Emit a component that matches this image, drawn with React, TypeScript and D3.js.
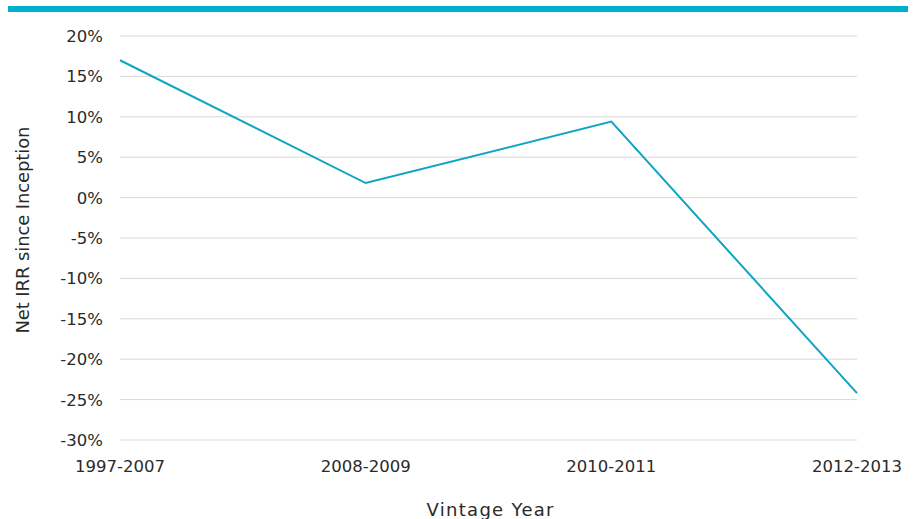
import React from "react";
import * as d3 from "d3";

const categories = ["1997-2007", "2008-2009", "2010-2011", "2012-2013"];
const irrValues = [17.0, 1.8, 9.4, -24.2];
const yTicks = [20, 15, 10, 5, 0, -5, -10, -15, -20, -25, -30];

const W = 916;
const H = 519;

export default function App() {
  const x = d3.scalePoint<string>().domain(categories).range([120, 857]);
  const y = d3.scaleLinear().domain([-30, 20]).range([440, 36]);
  const line = d3
    .line<number>()
    .x((_, i) => x(categories[i]) as number)
    .y((d) => y(d));
  const font = "'DejaVu Sans', sans-serif";
  const txt = "#2a2a2a";
  return (
    <svg
      width={W}
      height={H}
      style={{ position: "absolute", left: 0, top: 0, display: "block" }}
      fontFamily={font}
    >
      <rect x={8} y={6} width={900} height={6} fill="#00afcb" />
      {yTicks.map((t) => (
        <g key={t}>
          <line x1={120} x2={857} y1={y(t)} y2={y(t)} stroke="#d9d9d9" strokeWidth={1} />
          <text x={103} y={y(t)} dy="0.36em" textAnchor="end" fontSize={16.5} fill={txt}>
            {t}%
          </text>
        </g>
      ))}
      <path d={line(irrValues) || ""} fill="none" stroke="#0ea5c4" strokeWidth={2} />
      {categories.map((c) => (
        <text key={c} x={x(c)} y={466} dy="0.36em" textAnchor="middle" fontSize={16.5} fill={txt}>
          {c}
        </text>
      ))}
      <text
        x={490}
        y={516}
        textAnchor="middle"
        fontSize={18}
        fill={txt}
        textLength={127}
        lengthAdjust="spacing"
      >
        Vintage Year
      </text>
      <text
        transform={`translate(29,230) rotate(-90)`}
        textAnchor="middle"
        fontSize={18}
        fill={txt}
        textLength={207}
        lengthAdjust="spacing"
      >
        Net IRR since Inception
      </text>
    </svg>
  );
}
